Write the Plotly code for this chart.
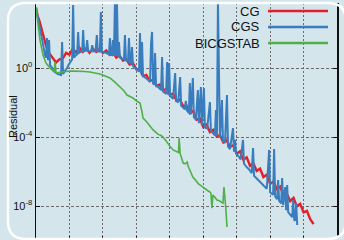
import plotly.graph_objects as go

# ---------------- data (iteration, log10 residual) ----------------
cg_iter = [0, 5, 10, 15, 20, 25, 30, 40, 50, 60, 70, 80, 90, 100, 110, 120, 130, 140, 150, 160,
           170, 180, 190, 200, 210, 220, 230, 240, 250, 260, 270, 280, 290, 300, 310, 320, 330,
           340, 350, 360, 370, 380, 390, 400, 410, 420, 430, 440, 450, 460, 470, 480, 490, 500,
           510, 520, 530, 540, 550, 560, 570, 580, 590, 600, 610, 620, 630, 640, 650, 660, 670,
           680, 690, 700, 710, 720, 730, 740, 750, 760, 770, 780, 790, 800, 810, 820, 830]
cg_log10_res = [3.5, 3.0, 2.75, 2.35, 1.95, 1.6, 1.3, 0.85, 0.58, 0.32, 0.5, 0.55, 0.88, 0.78, 1.12,
                0.9, 1.17, 0.93, 1.14, 0.88, 1.12, 0.93, 1.1, 0.86, 1.02, 0.76, 0.9, 0.6, 0.72,
                0.43, 0.5, 0.2, 0.27, -0.07, -0.08, -0.47, -0.4, -0.77, -0.68, -1.04, -0.96,
                -1.32, -1.2, -1.57, -1.48, -1.9, -1.83, -2.22, -2.18, -2.62, -2.48, -3.0, -2.93,
                -3.42, -3.28, -3.72, -3.58, -3.97, -3.88, -4.32, -4.18, -4.57, -4.48, -4.97, -4.83,
                -5.32, -5.18, -5.67, -5.53, -5.97, -5.83, -6.32, -6.18, -6.72, -6.58, -7.02, -6.88,
                -7.37, -7.28, -7.72, -7.53, -8.02, -7.88, -8.37, -8.28, -8.77, -9.05]

cgs_iter = [0, 6, 12, 20, 27, 30, 33, 36, 39, 42, 50, 57, 65, 72, 75, 78, 81, 87, 93, 98, 102, 108,
            111, 114, 117, 123, 126, 129, 135, 138, 141, 144, 150, 153, 156, 162, 165, 168, 171,
            178, 182, 185, 191, 194, 197, 203, 210, 215, 218, 221, 224, 227, 230, 233, 236, 239,
            242, 245, 248, 251, 258, 263, 266, 269, 275, 278, 281, 284, 287, 290, 297, 303, 308,
            311, 314, 317, 320, 328, 335, 341, 344, 347, 350, 353, 356, 359, 366, 371, 374, 377,
            380, 389, 392, 395, 398, 401, 410, 416, 419, 425, 431, 434, 445, 448, 451, 457, 460,
            463, 469, 472, 478, 484, 487, 493, 496, 502, 505, 512, 520, 523, 530, 535, 538, 541,
            544, 547, 550, 556, 559, 565, 571, 574, 580, 589, 592, 595, 598, 605, 612, 619, 622,
            630, 638, 645, 649, 652, 660, 670, 680, 690, 697, 700, 709, 712, 715, 721, 724, 727,
            733, 736, 739, 745, 748, 751, 754, 760, 766, 769, 772, 775, 778, 781]
cgs_log10_res = [3.48, 2.85, 2.2, 1.4, 0.75, 0.6, 1.74, 0.45, 1.62, 0.17, -0.05, -0.23, -0.35,
                 -0.41, -0.4, 1.51, -0.35, -0.15, 0.0, 0.2, 0.35, 0.5, 3.65, 0.6, 0.7, 0.8, 2.09,
                 0.88, 0.95, 0.97, 2.2, 0.98, 1.0, 1.62, 0.98, 1.0, 0.97, 1.33, 0.96, 0.98, 1.91,
                 0.95, 0.95, 3.25, 0.92, 0.9, 0.88, 0.82, 0.8, 1.74, 0.76, 0.74, 1.62, 0.72, 3.8,
                 0.68, 3.8, 0.65, 1.51, 0.6, 0.52, 0.48, 1.91, 0.44, 0.38, 1.74, 0.3, 0.25, 1.22,
                 0.12, 0.0, -0.1, -0.2, 2.03, -0.3, 1.51, -0.46, -0.58, -0.68, -0.78, 1.45, 2.09,
                 -0.9, -0.95, 0.87, -1.0, -1.12, -1.22, -1.27, 0.64, -1.35, -1.5, 0.35, -1.55,
                 0.29, -1.62, -1.78, -0.29, -1.9, -2.0, -0.52, -2.18, -2.4, -1.9, -2.45, -2.6,
                 -0.87, -2.7, -0.58, -2.85, -3.0, -1.28, -3.2, -1.1, -3.35, -1.16, -3.45, -3.5,
                 -1.97, -3.65, -3.83, -3.9, -2.43, -3.95, 3.8, -2.26, -4.05, -1.86, -4.2, -4.35,
                 -1.57, -4.55, -4.7, -3.48, -4.85, -4.17, -4.95, -5.1, -5.3, -4.17, -5.55, -5.75,
                 -5.9, -6.1, -4.64, -6.25, -6.4, -6.6, -6.8, -7.0, -4.75, -7.2, -7.35, -4.7, -7.45,
                 -7.6, -6.49, -7.7, -7.85, -6.38, -7.95, -6.9, -8.25, -6.78, -8.35, -8.5, -8.65,
                 -7.65, -8.8, -8.85, -7.83, -9.1]

bicg_iter = [0, 6, 12, 21, 30, 42, 51, 54, 57, 60, 72, 85, 102, 115, 132, 145, 161, 175, 191, 205,
             221, 235, 245, 255, 262, 272, 280, 290, 300, 311, 317, 320, 330, 340, 350, 357, 365,
             373, 380, 388, 396, 403, 410, 420, 426, 428, 431, 435, 440, 446, 452, 455, 462, 469,
             477, 485, 492, 499, 506, 513, 520, 523, 526, 529, 535, 541, 548, 555, 559, 562, 565,
             568, 571]
bicg_log10_res = [3.48, 2.49, 1.62, 0.75, 0.29, 0.0, -0.17, -0.23, 0.35, -0.29, -0.25, -0.2,
                  -0.17, -0.18, -0.17, -0.2, -0.23, -0.27, -0.35, -0.45, -0.58, -0.8, -0.99,
                  -1.15, -1.3, -1.57, -1.65, -1.74, -1.9, -2.03, -2.55, -2.9, -3.1, -3.35, -3.59,
                  -3.7, -3.85, -3.9, -4.0, -4.2, -4.45, -4.6, -4.75, -4.85, -4.9, -4.06, -4.95,
                  -5.2, -5.51, -5.55, -5.45, -5.7, -6.0, -6.32, -6.5, -6.7, -6.8, -6.9, -7.05,
                  -7.1, -7.19, -7.25, -8.12, -7.36, -7.5, -7.65, -7.7, -7.8, -7.83, -6.9, -7.94,
                  -8.23, -9.22]

series_names = ["CG", "CGS", "BICGSTAB"]
series_colors = ["#e41f26", "#3a7dbf", "#4fb04a"]
ytick_vals = [1e4, 1e0, 1e-4, 1e-8]
ytick_text = ["10<sup>4</sup>", "10<sup>0</sup>", "10<sup>-4</sup>", "10<sup>-8</sup>"]

BG = "#d4e5ec"
W, H = 344, 240
ML, MR, MT, MB = 36, 7, 3, 0
PW, PH = W - ML - MR, H - MT - MB


def px(x):
    return (x - ML) / PW


def py(y):
    return (H - MB - y) / PH


fig = go.Figure()
for xs, es, name, col, w in [
    (cg_iter, cg_log10_res, series_names[0], series_colors[0], 2.4),
    (cgs_iter, cgs_log10_res, series_names[1], series_colors[1], 2.0),
    (bicg_iter, bicg_log10_res, series_names[2], series_colors[2], 1.6),
]:
    fig.add_trace(go.Scatter(x=xs, y=[10 ** e for e in es], mode="lines", name=name,
                             line=dict(color=col, width=w), showlegend=False, hoverinfo="skip"))

# legend drawn manually (text left of the sample line)
shapes = []
annotations = []
for i, (name, col) in enumerate(zip(series_names, series_colors)):
    yy = 11 + i * 16
    annotations.append(dict(x=px(262), y=py(yy), xref="paper", yref="paper", text=name,
                            showarrow=False, xanchor="right", yanchor="middle",
                            font=dict(family="Liberation Sans Narrow, Liberation Sans", size=13,
                                      color="#111")))
    shapes.append(dict(type="line", xref="paper", yref="paper", x0=px(268), x1=px(328),
                       y0=py(yy), y1=py(yy), line=dict(color=col, width=2.5)))

annotations.append(dict(x=px(13), y=py(117), xref="paper", yref="paper", text="Residual",
                        textangle=-90, showarrow=False, xanchor="center", yanchor="middle",
                        font=dict(family="Liberation Sans", size=11, color="#111")))


def P(x, y):
    return f"{px(x):.5f},{py(y):.5f}"


# mask corner outside the rounded frame (bottom right)
shapes.append(dict(type="path", xref="paper", yref="paper", layer="above",
                   path=f"M{P(347,214)} L{P(347,241)} L{P(322,241)} L{P(328,239)} "
                        f"Q{P(346,239)} {P(346,221)} Z",
                   fillcolor=BG, line=dict(width=0)))
# white rounded frame
shapes.append(dict(type="path", xref="paper", yref="paper", layer="above",
                   path=(f"M{P(26,3)} L{P(328,3)} Q{P(346,3)} {P(346,21)} L{P(346,221)} "
                         f"Q{P(346,239)} {P(328,239)} L{P(26,239)} Q{P(8,239)} {P(8,221)} "
                         f"L{P(8,21)} Q{P(8,3)} {P(26,3)} Z"),
                   line=dict(color="white", width=2.5)))

fig.update_layout(
    width=W, height=H, margin=dict(l=ML, r=MR, t=MT, b=MB, autoexpand=False),
    paper_bgcolor=BG, plot_bgcolor=BG,
    shapes=shapes, annotations=annotations,
    xaxis=dict(range=[0, 900], dtick=100, tick0=0, showticklabels=False, automargin=False,
               ticks="inside", ticklen=4, tickcolor="#111",
               showgrid=True, gridcolor="#6b6b6b", griddash="2px,2px", gridwidth=1,
               showline=False, zeroline=False),
    yaxis=dict(type="log", range=[-9.971, 3.768], tickvals=ytick_vals, ticktext=ytick_text,
               automargin=False,
               ticks="inside", ticklen=4, tickcolor="#111",
               showline=True, linecolor="#111", linewidth=1.5, mirror="ticks",
               showgrid=True, gridcolor="#6b6b6b", griddash="3px,2px", gridwidth=1,
               zeroline=False,
               tickfont=dict(family="Liberation Sans", size=11, color="#111")),
)

fig.write_html("out.html",
               config={"displayModeBar": False, "staticPlot": True},
               post_script="document.body.style.margin='0';"
                           "document.body.style.overflow='hidden';"
                           f"document.body.style.background='{BG}';")
